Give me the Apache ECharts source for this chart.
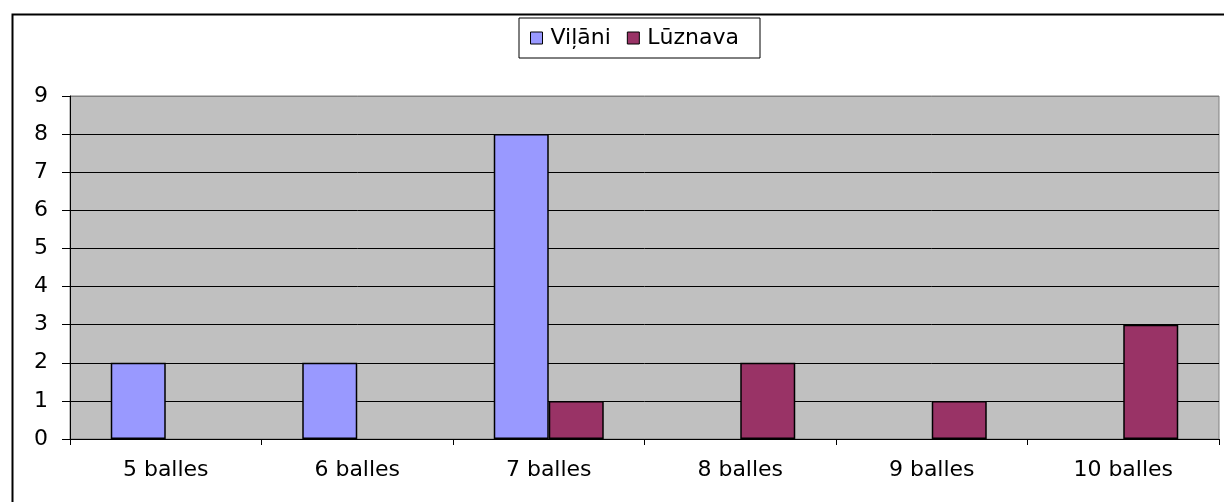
<!DOCTYPE html>
<html>
<head>
<meta charset="utf-8">
<script src="https://cdn.jsdelivr.net/npm/echarts@6/dist/echarts.min.js"></script>
<style>html,body{margin:0;padding:0;background:#fff}#c{width:1224px;height:502px}</style>
</head>
<body>
<div id="c"></div>
<script>
const categories = ['5 balles', '6 balles', '7 balles', '8 balles', '9 balles', '10 balles'];
const vilani = [2, 2, 8, 0, 0, 0];
const luznava = [0, 0, 1, 2, 1, 3];
const seriesNames = ['Viļāni', 'Lūznava'];
const yTicks = [0, 1, 2, 3, 4, 5, 6, 7, 8, 9];

const FONT = 'DejaVu Sans';
const chart = echarts.init(document.getElementById('c'), null, {renderer: 'canvas'});
const splitColors = yTicks.map((v, i) => i === yTicks.length - 1 ? '#808080' : '#000000');
const noZero = arr => arr.map(v => v === 0 ? null : v);

chart.setOption({
  animation: false,
  backgroundColor: '#ffffff',
  graphic: [{
    type: 'rect', left: 10, top: 12, z: -10,
    shape: {width: 1240, height: 520},
    style: {fill: 'none', stroke: '#000', lineWidth: 2}
  }],
  legend: {
    left: 519, top: 18,
    padding: [9, 21, 9, 11],
    borderColor: '#000', borderWidth: 1,
    itemWidth: 12, itemHeight: 12, itemGap: 16,
    icon: 'rect',
    itemStyle: {borderColor: '#000', borderWidth: 1},
    textStyle: {fontFamily: FONT, fontSize: 22, color: '#000', padding: [0, 0, 0, 3]},
    data: seriesNames
  },
  grid: {
    left: 70, right: 5, top: 96, bottom: 63,
    show: true, backgroundColor: '#C0C0C0', borderColor: '#808080', borderWidth: 1
  },
  xAxis: {
    type: 'category', data: categories,
    axisLine: {lineStyle: {color: '#000', width: 1}},
    axisTick: {show: true, alignWithLabel: false, length: 6, lineStyle: {color: '#000'}},
    axisLabel: {fontFamily: FONT, fontSize: 22, color: '#000', margin: 20, interval: 0},
    splitLine: {show: false}
  },
  yAxis: {
    type: 'value', min: 0, max: 9, interval: 1,
    axisLine: {show: true, lineStyle: {color: '#000', width: 1}},
    axisTick: {show: true, length: 8, lineStyle: {color: '#000'}},
    axisLabel: {fontFamily: FONT, fontSize: 22, color: '#000', margin: 22},
    splitLine: {show: true, lineStyle: {color: splitColors, width: 1}}
  },
  series: [
    {name: seriesNames[0], type: 'bar', data: noZero(vilani), barWidth: 55, barGap: '0%',
     itemStyle: {color: '#9999FF', borderColor: '#000', borderWidth: 1.5}},
    {name: seriesNames[1], type: 'bar', data: noZero(luznava), barWidth: 55, barGap: '0%',
     itemStyle: {color: '#993366', borderColor: '#000', borderWidth: 1.5}}
  ]
});
</script>
</body>
</html>
